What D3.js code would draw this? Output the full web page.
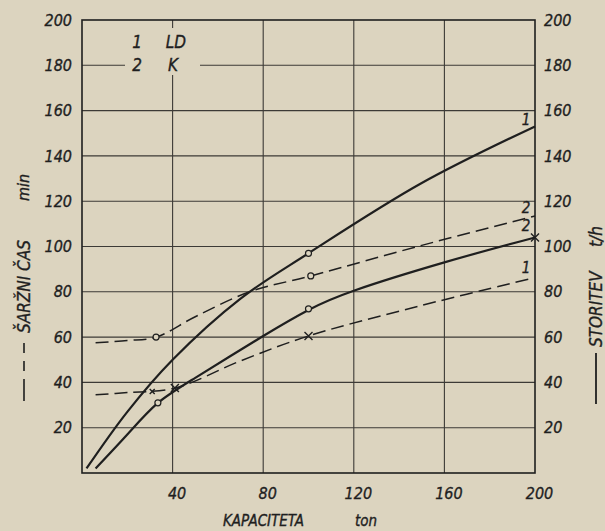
<!DOCTYPE html>
<html>
<head>
<meta charset="utf-8">
<script src="https://cdn.jsdelivr.net/npm/d3@7"></script>
<style>
  body { margin: 0; background: #dcd4bf; }
  svg text { font-family: "DejaVu Sans Condensed", "Liberation Sans Narrow", "DejaVu Sans", sans-serif; font-style: italic; fill: #1f1f1f; stroke: #1f1f1f; stroke-width: 0.35px; }
</style>
</head>
<body>
<svg id="chart" width="605" height="531"></svg>
<script>
// tick values (both y axes go 0..200)
var xTicks = [40, 80, 120, 160, 200];
var yTicks = [20, 40, 60, 80, 100, 120, 140, 160, 180, 200];

// 1 LD - storitev t/h (solid)
var ldStoritevX = [2, 20, 40, 70, 100, 150, 200];
var ldStoritev  = [2, 27, 50, 77, 97, 128, 153];
// 2 K - storitev t/h (solid)
var kStoritevX = [6, 20, 33, 50, 80, 100, 120, 160, 200];
var kStoritev  = [2, 17, 30.5, 42, 60.5, 72, 80.5, 93, 104];
// 1 LD - sarzni cas min (dashed)
var ldCasX = [6, 20, 41, 70, 100, 150, 199];
var ldCas  = [34.5, 35.5, 37.5, 49.5, 60.5, 74, 86];
// 2 K - sarzni cas min (dashed)
var kCasX = [6, 20, 32.7, 50, 74, 101, 150, 200];
var kCas  = [57.5, 58.5, 60, 69, 80, 87, 100.5, 113.5];

// measured points
var circles = [[100, 97], [101, 87], [100, 72.5], [32.7, 60], [33.5, 31]];
var crosses = [[100, 60.5], [41, 37.5], [200, 104]];
var smallCrosses = [[31, 36]];

// curve end labels
var endLabels = [["1", 196, 156], ["2", 196, 117], ["2", 196, 109], ["1", 196, 90.5]];

var svg = d3.select("#chart");
var ink = "#1f1f1f";
var paper = "#dcd4bf";

var x = d3.scaleLinear().domain([0, 200]).range([82, 535]);
var y = d3.scaleLinear().domain([0, 200]).range([473, 20]);

// grid
svg.append("g")
  .selectAll("line")
  .data(yTicks.filter(function (d) { return d < 200; }))
  .enter().append("line")
  .attr("x1", x(0)).attr("x2", x(200))
  .attr("y1", function (d) { return y(d); }).attr("y2", function (d) { return y(d); })
  .attr("stroke", "#3c3a36").attr("stroke-width", 1.1);

svg.append("g")
  .selectAll("line")
  .data(xTicks.filter(function (d) { return d < 200; }))
  .enter().append("line")
  .attr("x1", function (d) { return x(d); }).attr("x2", function (d) { return x(d); })
  .attr("y1", y(0)).attr("y2", y(200))
  .attr("stroke", "#3c3a36").attr("stroke-width", 1.1);

// gap in the grid for the legend
svg.append("rect")
  .attr("x", 125).attr("y", 28).attr("width", 75).attr("height", 47)
  .attr("fill", paper);

// frame
svg.append("rect")
  .attr("x", x(0)).attr("y", y(200))
  .attr("width", x(200) - x(0)).attr("height", y(0) - y(200))
  .attr("fill", "none").attr("stroke", ink).attr("stroke-width", 1.6);

// axes
var yLeft = svg.append("g")
  .attr("transform", "translate(" + x(0) + ",0)")
  .call(d3.axisLeft(y).tickValues(yTicks).tickSize(0).tickPadding(10));
var yRight = svg.append("g")
  .attr("transform", "translate(" + x(200) + ",0)")
  .call(d3.axisRight(y).tickValues(yTicks).tickSize(0).tickPadding(9));
var xAxis = svg.append("g")
  .attr("transform", "translate(0," + y(0) + ")")
  .call(d3.axisBottom(x).tickValues(xTicks).tickSize(0).tickPadding(15));

[yLeft, yRight, xAxis].forEach(function (g) {
  g.select(".domain").remove();
  g.selectAll("text").style("font-size", "16px").attr("fill", ink);
});
xAxis.selectAll("text").attr("dx", 4);

// curves
function curve(xs, vs, kind) {
  return d3.line()
    .x(function (d, i) { return x(xs[i]); })
    .y(function (d) { return y(d); })
    .curve(kind || d3.curveCatmullRom.alpha(0.5))(vs);
}

svg.append("path").attr("d", curve(ldStoritevX, ldStoritev))
  .attr("fill", "none").attr("stroke", ink).attr("stroke-width", 2.2);
svg.append("path").attr("d", curve(kStoritevX, kStoritev, d3.curveNatural))
  .attr("fill", "none").attr("stroke", ink).attr("stroke-width", 2.2);
svg.append("path").attr("d", curve(ldCasX, ldCas))
  .attr("fill", "none").attr("stroke", ink).attr("stroke-width", 1.5)
  .attr("stroke-dasharray", "13,6");
svg.append("path").attr("d", curve(kCasX, kCas))
  .attr("fill", "none").attr("stroke", ink).attr("stroke-width", 1.5)
  .attr("stroke-dasharray", "13,6");

// markers
svg.append("g").selectAll("circle")
  .data(circles)
  .enter().append("circle")
  .attr("cx", function (d) { return x(d[0]); })
  .attr("cy", function (d) { return y(d[1]); })
  .attr("r", 3)
  .attr("fill", paper).attr("stroke", ink).attr("stroke-width", 1.2);

function cross(sel, r) {
  sel.append("path")
    .attr("d", function (d) {
      var cx = x(d[0]), cy = y(d[1]);
      return "M" + (cx - r) + "," + (cy - r) + "L" + (cx + r) + "," + (cy + r) +
             "M" + (cx - r) + "," + (cy + r) + "L" + (cx + r) + "," + (cy - r);
    })
    .attr("stroke", ink).attr("stroke-width", 1.4);
}
svg.append("g").selectAll("g").data(crosses).enter().append("g").call(cross, 4);
svg.append("g").selectAll("g").data(smallCrosses).enter().append("g").call(cross, 2.5);

// end labels
svg.append("g").selectAll("text")
  .data(endLabels)
  .enter().append("text")
  .attr("x", function (d) { return x(d[1]); })
  .attr("y", function (d) { return y(d[2]); })
  .attr("dy", "0.35em")
  .attr("text-anchor", "middle")
  .style("font-size", "15px")
  .text(function (d) { return d[0]; });

// legend
var legend = svg.append("g").style("font-size", "17px");
legend.append("text").attr("x", 137).attr("y", 48).attr("text-anchor", "middle").text("1");
legend.append("text").attr("x", 176).attr("y", 48).attr("text-anchor", "middle").text("LD");
legend.append("text").attr("x", 137).attr("y", 71).attr("text-anchor", "middle").text("2");
legend.append("text").attr("x", 173).attr("y", 71).attr("text-anchor", "middle").text("K");

// x title
svg.append("text").attr("x", 223).attr("y", 526).style("font-size", "15px").text("KAPACITETA");
svg.append("text").attr("x", 355).attr("y", 526).style("font-size", "15px").text("ton");

// left title (dashed = sarzni cas)
svg.append("line")
  .attr("x1", 24).attr("x2", 24).attr("y1", 401).attr("y2", 337)
  .attr("stroke", ink).attr("stroke-width", 1.6).attr("stroke-dasharray", "22,8,10,8,10");
svg.append("text")
  .attr("transform", "translate(30,333) rotate(-90)")
  .style("font-size", "17px")
  .text("ŠARŽNI ČAS");
svg.append("text")
  .attr("transform", "translate(29,201) rotate(-90)")
  .style("font-size", "16px")
  .text("min");

// right title (solid = storitev)
svg.append("line")
  .attr("x1", 596).attr("x2", 596).attr("y1", 404).attr("y2", 353)
  .attr("stroke", ink).attr("stroke-width", 1.8);
svg.append("text")
  .attr("transform", "translate(602,347) rotate(-90)")
  .style("font-size", "17px")
  .text("STORITEV");
svg.append("text")
  .attr("transform", "translate(602,247) rotate(-90)")
  .style("font-size", "17px")
  .text("t/h");
</script>
</body>
</html>
